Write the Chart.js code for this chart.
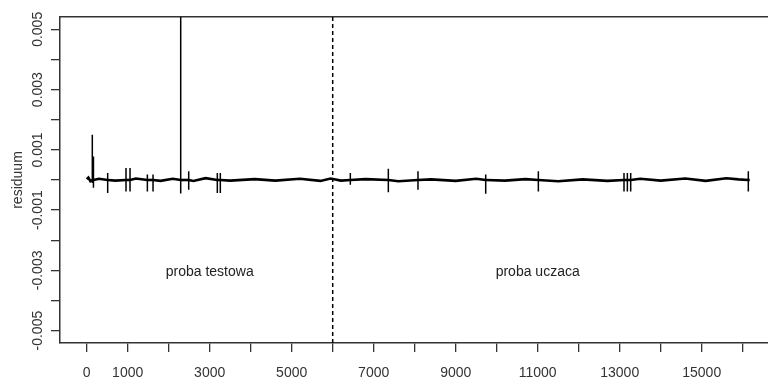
<!DOCTYPE html>
<html>
<head>
<meta charset="utf-8">
<script src="https://cdn.jsdelivr.net/npm/chart.js@4.4.1/dist/chart.umd.min.js"></script>
<style>
  html, body { margin: 0; padding: 0; background: #fff; overflow: hidden; }
  #wrap { width: 768px; height: 380px; }
</style>
</head>
<body>
<div id="wrap"><canvas id="c" width="768" height="380"></canvas></div>
<script>
// ---- data ----
// baseline residuals (observation index, residual)
const baseIdx = [0, 40, 90, 300, 700, 1200, 1800, 2100, 2600, 2900, 3500, 4100, 4600, 5200, 5700, 5950,
                 6200, 6800, 7600, 8400, 9000, 9500, 10200, 10700, 11500, 12100, 12700, 13500, 14000, 14600, 15100, 15600, 15900, 16140];
const baseVal = [0.00003, 0.00008, -0.00004, 0.00004, -0.00002, 0.00005, -0.00003, 0.00004, -0.00003, 0.00006, -0.00002, 0.00003, -0.00002, 0.00004, -0.00003, 0.00005,
                 -0.00002, 0.00003, -0.00004, 0.00002, -0.00003, 0.00004, -0.00002, 0.00003, -0.00004, 0.00002, -0.00003, 0.00004, -0.00002, 0.00005, -0.00003, 0.00006, 0.00002, 0.00004];
// isolated spikes (observation index, high, low)
const spikeIdx  = [137, 165, 512, 959, 1057, 1480, 1618, 2293, 2488, 3186, 3259, 6430, 7357, 8080, 9732, 11016, 13105, 13187, 13268, 16137];
const spikeHigh = [0.00150, 0.00078, 0.00023, 0.00040, 0.00040, 0.00018, 0.00018, 0.00650, 0.00029, 0.00023, 0.00023, 0.00023, 0.00037, 0.00029, 0.00018, 0.00029, 0.00023, 0.00023, 0.00023, 0.00029];
const spikeLow  = [-0.00010, -0.00026, -0.00043, -0.00038, -0.00038, -0.00038, -0.00038, -0.00045, -0.00032, -0.00043, -0.00043, -0.00016, -0.00041, -0.00032, -0.00046, -0.00038, -0.00038, -0.00038, -0.00038, -0.00038];
// split between test and training sample
const splitIdx = 6000;
// axis ticks
const xTickValues = [0,1000,2000,3000,4000,5000,6000,7000,8000,9000,10000,11000,12000,13000,14000,15000,16000];
const xTickLabels = ['0','1000','3000','5000','7000','9000','11000','13000','15000'];
const yTickValues = [-0.005,-0.004,-0.003,-0.002,-0.001,0,0.001,0.002,0.003,0.004,0.005];
const yTickLabels = ['-0.005','-0.003','-0.001','0.001','0.003','0.005'];
// text annotations
const noteTexts = ['proba testowa', 'proba uczaca'];
const noteX = [3000, 11000];
const noteY = [-0.003, -0.003];
const yTitle = 'residuum';

// ---- build series points ----
const events = [];
baseIdx.forEach((x, i) => events.push({ x: x, y: baseVal[i], o: 0 }));
spikeIdx.forEach((x, i) => {
  events.push({ x: x, y: 0, o: 1 });
  events.push({ x: x, y: spikeHigh[i], o: 2 });
  events.push({ x: x, y: spikeLow[i], o: 3 });
  events.push({ x: x, y: 0, o: 4 });
});
events.sort((a, b) => a.x - b.x || a.o - b.o);
const seriesPts = events.map(e => ({ x: e.x, y: e.y }));

const Y_MIN = -0.00541, Y_MAX = 0.00541;
const X_MIN = -651, X_MAX = 16617;
const FONT = "'Liberation Sans', Arial, sans-serif";
const INK = '#333';

const notesPlugin = {
  id: 'notes',
  afterDatasetsDraw(chart) {
    const ctx = chart.ctx, xs = chart.scales.x, ys = chart.scales.y;
    ctx.save();
    ctx.fillStyle = '#222';
    ctx.font = '14px ' + FONT;
    ctx.textAlign = 'center';
    ctx.textBaseline = 'middle';
    noteTexts.forEach((t, i) => ctx.fillText(t, xs.getPixelForValue(noteX[i]), ys.getPixelForValue(noteY[i]) + 2));
    ctx.restore();
  }
};

new Chart(document.getElementById('c'), {
  type: 'line',
  data: {
    datasets: [
      {
        data: seriesPts,
        borderColor: '#000',
        borderWidth: 2.6,
        segment: {
          borderWidth: c => (c.p0.parsed.x === c.p1.parsed.x ? 1.5 : 2.6)
        },
        pointRadius: 0,
        tension: 0,
        clip: 0
      },
      {
        data: [{ x: splitIdx, y: Y_MIN }, { x: splitIdx, y: Y_MAX }],
        borderColor: '#000',
        borderWidth: 1.5,
        borderDash: [4, 3],
        pointRadius: 0,
        clip: 0
      }
    ]
  },
  options: {
    responsive: false,
    animation: false,
    events: [],
    layout: { padding: 0 },
    plugins: { legend: { display: false }, tooltip: { enabled: false } },
    scales: {
      x: {
        type: 'linear',
        position: 'bottom',
        min: X_MIN, max: X_MAX,
        afterBuildTicks: s => { s.ticks = xTickValues.map(v => ({ value: v })); },
        afterFit: s => { s.height = 37; },
        ticks: {
          autoSkip: false, maxRotation: 0, minRotation: 0,
          padding: 13, color: INK,
          font: { family: FONT, size: 14 },
          callback: v => xTickLabels.includes(String(v)) ? String(v) : ''
        },
        grid: { drawOnChartArea: false, drawTicks: true, tickLength: 9, color: INK, lineWidth: 1.3 },
        border: { display: true, color: INK, width: 1.5 }
      },
      xTop: {
        type: 'linear',
        position: 'top',
        min: X_MIN, max: X_MAX,
        afterFit: s => { s.height = 17; },
        ticks: { display: false },
        grid: { drawOnChartArea: false, drawTicks: false },
        border: { display: true, color: INK, width: 1.5 }
      },
      y: {
        type: 'linear',
        position: 'left',
        min: Y_MIN, max: Y_MAX,
        afterBuildTicks: s => { s.ticks = yTickValues.map(v => ({ value: v })); },
        afterFit: s => { s.width = 60; },
        ticks: {
          autoSkip: false, minRotation: 90, maxRotation: 90,
          crossAlign: 'center', padding: -7,
          color: INK, font: { family: FONT, size: 14 },
          callback: v => {
            const s = (Math.round(v * 1000) / 1000).toFixed(3);
            return yTickLabels.includes(s) ? s : '';
          }
        },
        grid: { drawOnChartArea: false, drawTicks: true, tickLength: 9, color: INK, lineWidth: 1.3 },
        border: { display: true, color: INK, width: 1.5 },
        title: {
          display: true, text: yTitle, color: INK,
          font: { family: FONT, size: 14 },
          padding: { top: 10, bottom: 0 }
        }
      }
    }
  },
  plugins: [notesPlugin]
});
</script>
</body>
</html>
